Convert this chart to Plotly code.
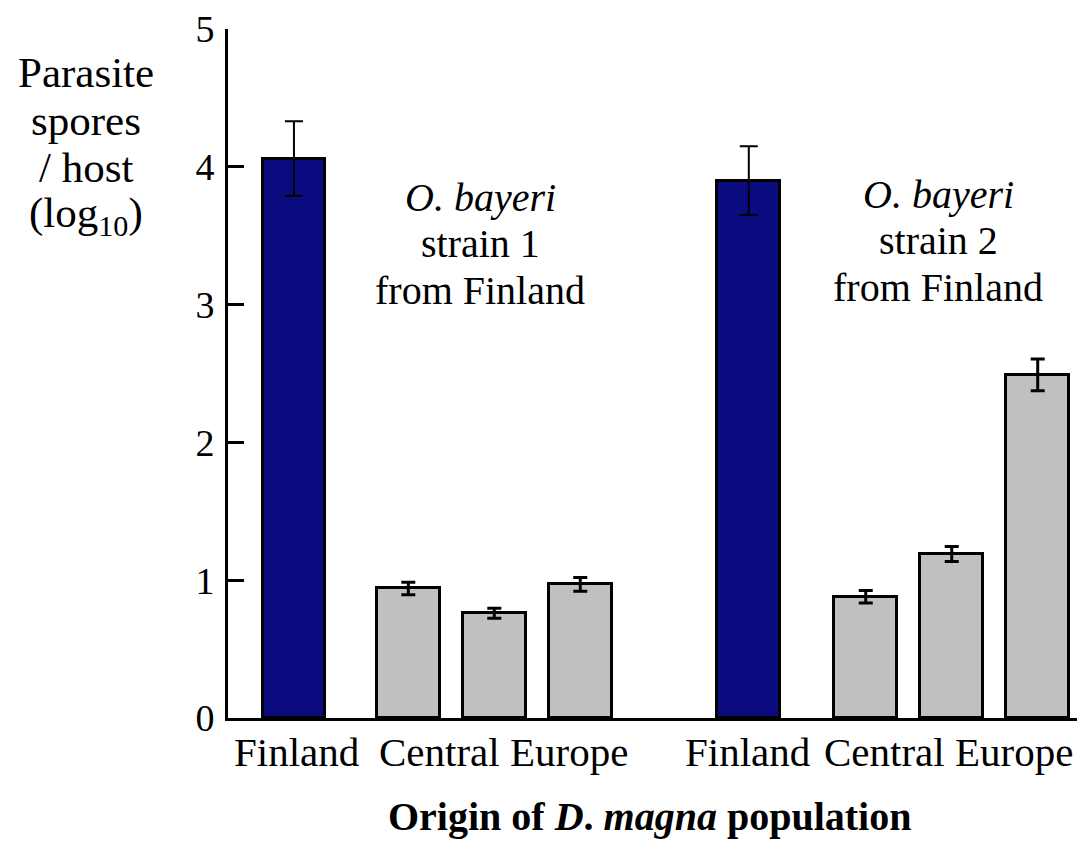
import plotly.graph_objects as go

# --- DATA ---
spores = [4.06, 0.94, 0.76, 0.97, 3.90, 0.88, 1.19, 2.49]
spores_err = [0.27, 0.045, 0.037, 0.05, 0.25, 0.045, 0.055, 0.115]
is_finland = [True, False, False, False, True, False, False, False]

y_ticks = [0, 1, 2, 3, 4, 5]
tick_labels = ["Finland", "Central Europe", "Finland", "Central Europe"]
strain1_lines = ["<i>O. bayeri</i>", "strain 1", "from Finland"]
strain2_lines = ["<i>O. bayeri</i>", "strain 2", "from Finland"]
ytitle_lines = ["Parasite", "spores", "/ host", "(log<sub>10</sub>)"]
xtitle = "<b>Origin of <i>D</i>. <i>magna</i> population</b>"

# --- LAYOUT CONFIG ---
X_POS = [0, 1.33, 2.33, 3.33, 5.29, 6.65, 7.65, 8.65]
X_RANGE = [-0.767, 9.2]
BAR_W = 0.73
FONT = "Liberation Serif"
BLUE = "#0b0b80"
GREY = "#c0c0c0"

# page body has an 8px margin, so the figure is drawn at (8, 8)
W, H = 1077, 844
ML, MR, MT, MB = 220, 0, 16, 134
PW, PH = W - ML - MR, H - MT - MB


def paper(sx, sy):
    """screen pixel -> paper coords"""
    return (sx - 8 - ML) / PW, (H - MB - (sy - 8)) / PH


def label(sx, sy, text, size, **kw):
    px, py = paper(sx, sy)
    fig.add_annotation(xref="paper", yref="paper", x=px, y=py, text=text,
                       showarrow=False, xanchor="center", yanchor="middle",
                       font=dict(family=FONT, size=size, color="black"), **kw)


fig = go.Figure()

for flag, color, thick, cap in [(True, BLUE, 2, 9), (False, GREY, 3, 7)]:
    xs = [x for x, f in zip(X_POS, is_finland) if f == flag]
    ys = [y for y, f in zip(spores, is_finland) if f == flag]
    es = [e for e, f in zip(spores_err, is_finland) if f == flag]
    fig.add_trace(go.Bar(
        x=xs, y=ys, width=BAR_W,
        marker=dict(color=color, line=dict(color="black", width=3)),
        error_y=dict(type="data", array=es, color="black", thickness=thick, width=cap),
        showlegend=False,
    ))

# strain labels, one annotation per line to control line spacing
for i, t in enumerate(strain1_lines):
    label(480, 194 + i * 46.5, t, 40)
for i, t in enumerate(strain2_lines):
    label(938, 191 + i * 46.5, t, 40)

# y-axis title
for i, t in enumerate(ytitle_lines):
    label(86, 68 + i * 48, t, 43)

# category labels under the bars
for sx, t in zip([296, 503, 747, 948], tick_labels):
    label(sx, 752, t, 41)

# x-axis title
label(649, 817, xtitle, 40)

fig.update_layout(
    width=W, height=H,
    plot_bgcolor="white", paper_bgcolor="white",
    margin=dict(l=ML, r=MR, t=MT, b=MB),
    bargap=0,
    font=dict(family=FONT, color="black"),
)

fig.update_xaxes(
    range=X_RANGE, showgrid=False, zeroline=False,
    showline=True, linecolor="black", linewidth=3,
    showticklabels=False, ticks="",
)
fig.update_yaxes(
    range=[0, 5], showgrid=False, zeroline=False,
    showline=True, linecolor="black", linewidth=3,
    tickvals=y_ticks, ticks="inside", ticklen=16, tickwidth=3, tickcolor="black",
    ticklabelstandoff=3, ticklabeloverflow="allow",
    tickfont=dict(family=FONT, size=38, color="black"),
)

fig.write_html("out.html")
